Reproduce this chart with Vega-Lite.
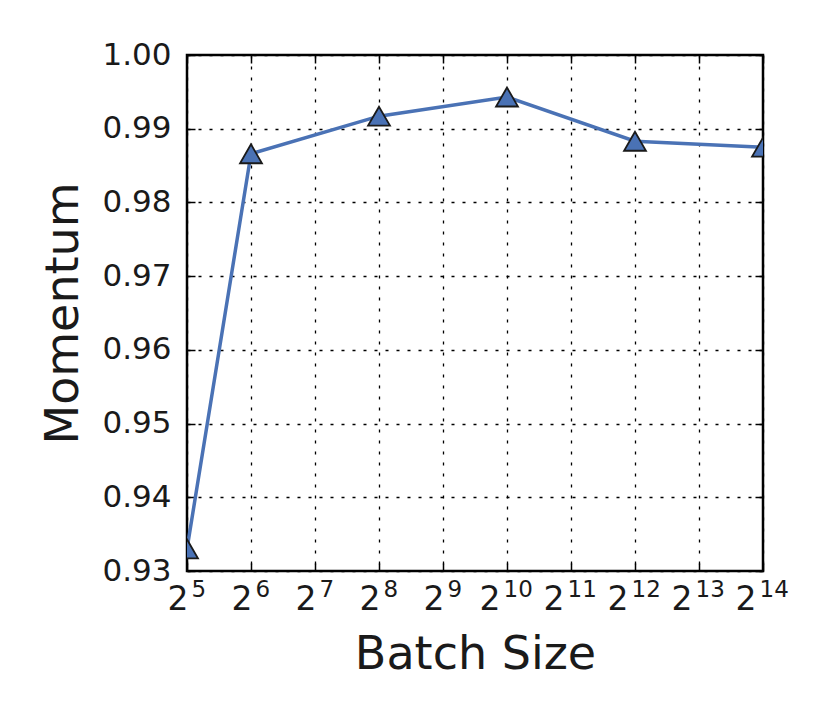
{
  "$schema": "https://vega.github.io/schema/vega-lite/v6.json",
  "width": 576,
  "height": 516,
  "autosize": {"type": "none"},
  "padding": {"left": 187, "top": 55, "right": 67, "bottom": 156},
  "background": "white",
  "config": {
    "font": "DejaVu Sans",
    "view": {"stroke": "black", "strokeWidth": 2.5},
    "axis": {
      "labelFont": "DejaVu Sans",
      "titleFont": "DejaVu Sans",
      "labelFontSize": 31,
      "titleFontSize": 46,
      "titleFontWeight": "normal",
      "labelColor": "#1a1a1a",
      "titleColor": "#1a1a1a",
      "domain": false,
      "tickColor": "black",
      "tickWidth": 1.5,
      "tickSize": -8,
      "gridColor": "black",
      "gridWidth": 1.3,
      "gridDash": [3, 8],
      "gridOpacity": 1
    }
  },
  "data": {
    "values": [
      {"batch": 32, "momentum": 0.933},
      {"batch": 64, "momentum": 0.9866},
      {"batch": 256, "momentum": 0.9917},
      {"batch": 1024, "momentum": 0.9943},
      {"batch": 4096, "momentum": 0.9883},
      {"batch": 16384, "momentum": 0.9875}
    ]
  },
  "resolve": {"axis": {"x": "independent", "y": "independent"}},
  "layer": [
    {
      "mark": {"type": "line", "color": "#4a72b5", "strokeWidth": 3.5, "clip": true},
      "encoding": {
        "x": {
          "field": "batch",
          "type": "quantitative",
          "scale": {"type": "log", "base": 2, "domain": [32, 16384], "nice": false},
          "axis": {
            "title": "Batch Size",
            "values": [32, 64, 128, 256, 512, 1024, 2048, 4096, 8192, 16384],
            "labelExpr": "'2'",
            "labelFontSize": 33,
            "labelAlign": "right",
            "labelOffset": {"condition": {"test": "datum.value >= 1024", "value": -7}, "value": 1},
            "labelPadding": 20,
            "labelFlush": false,
            "labelOverlap": false,
            "titlePadding": 16
          }
        },
        "y": {
          "field": "momentum",
          "type": "quantitative",
          "scale": {"domain": [0.93, 1.0], "nice": false, "zero": false},
          "axis": {
            "title": "Momentum",
            "values": [0.93, 0.94, 0.95, 0.96, 0.97, 0.98, 0.99, 1.0],
            "format": ".2f",
            "labelPadding": 24,
            "labelFlush": false,
            "titlePadding": 14
          }
        }
      }
    },
    {
      "mark": {"type": "point", "shape": "triangle-up", "size": 480, "filled": true, "fill": "#4a72b5", "strokeWidth": 0, "opacity": 1, "clip": true},
      "encoding": {
        "x": {
          "field": "batch",
          "type": "quantitative",
          "axis": {
            "orient": "bottom",
            "title": null,
            "values": [32, 64, 128, 256, 512, 1024, 2048, 4096, 8192, 16384],
            "labelExpr": "format(log(datum.value)/log(2), '.0f')",
            "labelFontSize": 23,
            "labelAlign": "left",
            "labelOffset": {"condition": {"test": "datum.value >= 1024", "value": -4}, "value": 4},
            "labelPadding": 7,
            "labelFlush": false,
            "labelOverlap": false,
            "ticks": false,
            "grid": false
          }
        },
        "y": {
          "field": "momentum",
          "type": "quantitative",
          "axis": {
            "orient": "right",
            "title": null,
            "values": [0.93, 0.94, 0.95, 0.96, 0.97, 0.98, 0.99, 1.0],
            "labels": false,
            "grid": false
          }
        }
      }
    },
    {
      "mark": {"type": "point", "shape": "triangle-up", "size": 480, "filled": false, "stroke": "#1a1a1a", "strokeWidth": 1.8, "opacity": 1, "clip": true},
      "encoding": {
        "x": {
          "field": "batch",
          "type": "quantitative",
          "axis": {
            "orient": "top",
            "title": null,
            "values": [32, 64, 128, 256, 512, 1024, 2048, 4096, 8192, 16384],
            "labels": false,
            "grid": false
          }
        },
        "y": {
          "field": "momentum",
          "type": "quantitative",
          "axis": null
        }
      }
    }
  ]
}
